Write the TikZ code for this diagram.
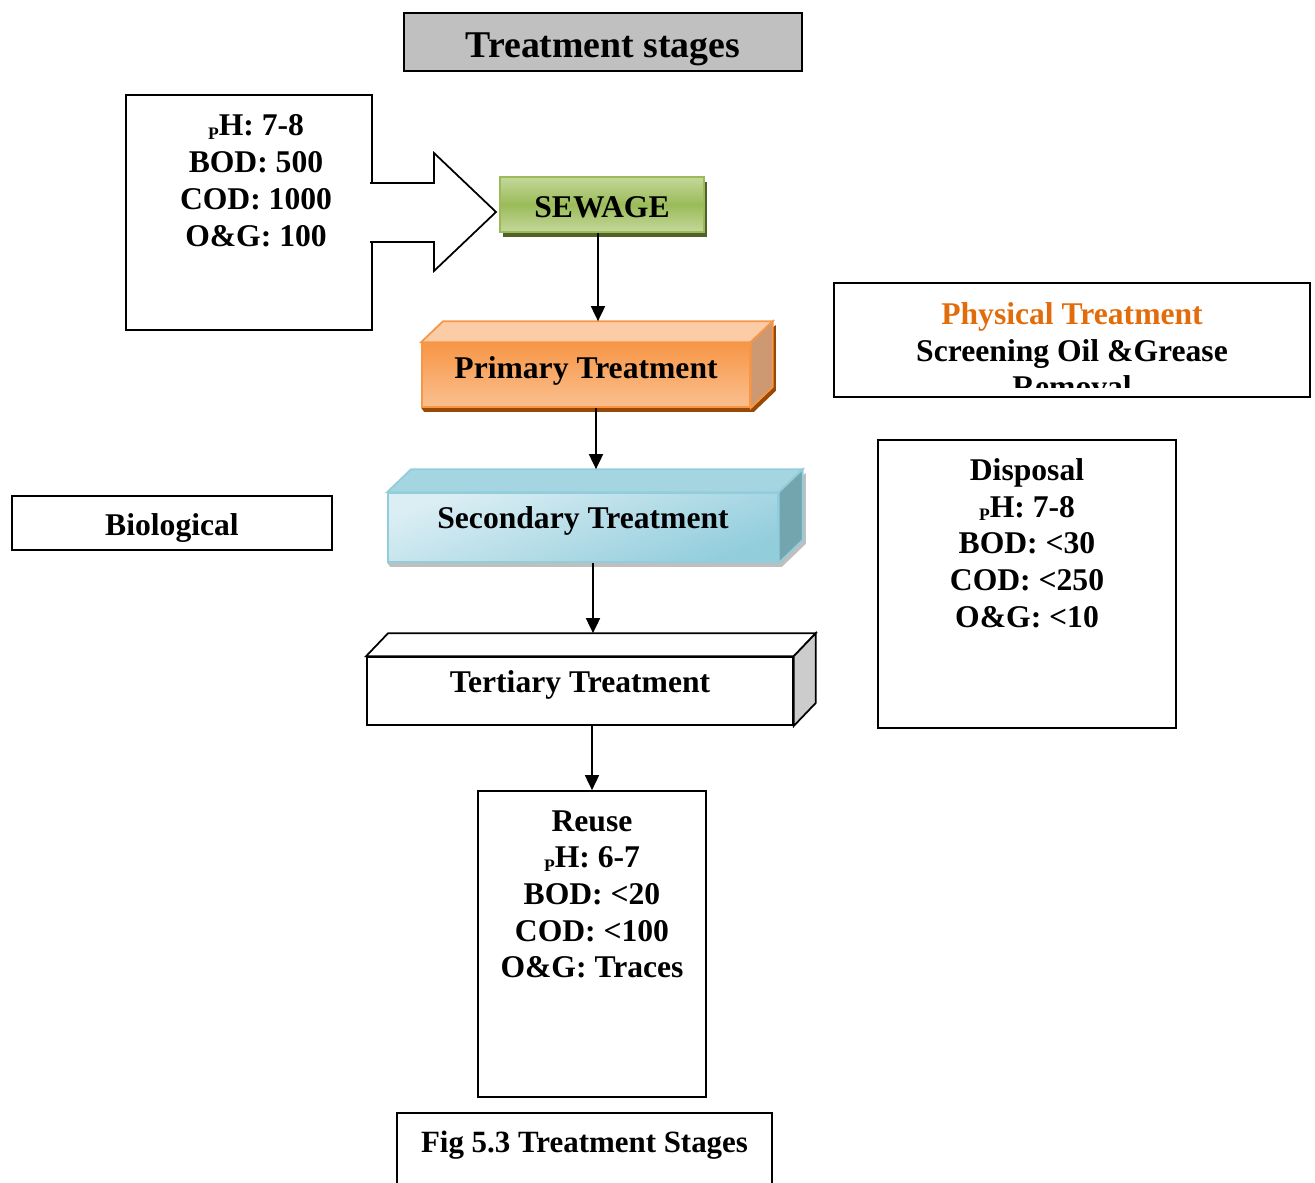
\documentclass[tikz,border=0pt]{standalone}
\usepackage{fontspec}
\setmainfont{Liberation Serif}
\usetikzlibrary{arrows.meta,shadows,backgrounds}
\definecolor{sewlight}{RGB}{196,215,155}
\definecolor{sewmid}{RGB}{155,187,89}
\definecolor{sewdark}{RGB}{79,98,40}
\definecolor{primlight}{RGB}{250,192,143}
\definecolor{primmid}{RGB}{247,150,70}
\definecolor{primtopc}{RGB}{251,204,165}
\definecolor{primside}{RGB}{204,153,114}
\definecolor{primdark}{RGB}{152,72,7}
\definecolor{seclight}{RGB}{219,238,244}
\definecolor{secmid}{RGB}{146,205,220}
\definecolor{sectopc}{RGB}{165,213,224}
\definecolor{secside}{RGB}{115,165,175}
\definecolor{terside}{RGB}{204,204,204}
\definecolor{titlegray}{RGB}{192,192,192}
\definecolor{physorange}{RGB}{227,108,10}
\newcommand\pH{{\fontsize{10}{10}\selectfont\raisebox{-2pt}{P}}H}

\begin{document}
\begin{tikzpicture}[x=0.02cm,y=-0.02cm,line width=1pt,
  bigfont/.style={font=\fontsize{18}{20.9}\selectfont\bfseries},
  plainbox/.style={draw,inner sep=0pt},
  txt/.style={bigfont,align=center,inner sep=0pt,anchor=north},
  stage/.style={bigfont,inner sep=0pt},
  flow/.style={-{Triangle[length=0.3cm,width=0.28cm]}}]
\useasboundingbox (0,0) rectangle (1315,1183);

\node[plainbox,fill=titlegray,minimum width=7.96cm,text height=0.9cm,text depth=0.26cm,font=\fontsize{21.5}{24}\selectfont\bfseries] (title) at (603,42) {Treatment stages};

\node[plainbox,minimum width=4.92cm,minimum height=4.70cm] (inbox) at (249,212.5) {};
\node[txt] (intxt) at (256,114) {\pH: 7-8\\BOD: 500\\COD: 1000\\O\&G: 100};
\filldraw[fill=white] (370,183) -- (434,183) -- (434,153) -- (496,212) -- (434,271) -- (434,242) -- (370,242);

\node[stage,draw=sewmid,top color=sewlight,bottom color=sewlight,middle color=sewmid,minimum width=4.08cm,text height=0.82cm,text depth=0.28cm,drop shadow={shadow xshift=0.06cm,shadow yshift=-0.1cm,fill=sewdark,opacity=1}] (sewage) at (602,204.5) {SEWAGE};

\node[stage,draw=primmid,top color=primmid,bottom color=primlight,minimum width=6.56cm,text height=0.70cm,text depth=0.58cm] (primary) at (586,375) {Primary Treatment};
\filldraw[draw=primmid,fill=primtopc] (primary.north west) -- ++(22,-21) -- ([shift={(22,-21)}]primary.north east) -- (primary.north east) -- cycle;
\filldraw[draw=primmid,fill=primside] (primary.north east) -- ++(22,-21) -- ([shift={(22,-21)}]primary.south east) -- (primary.south east) -- cycle;

\node[stage,draw=secmid,top color=seclight,bottom color=secmid,shading angle=20,minimum width=7.80cm,text height=0.70cm,text depth=0.68cm] (secondary) at (583,527.5) {Secondary Treatment};
\filldraw[draw=secmid,fill=sectopc] (secondary.north west) -- ++(24,-23) -- ([shift={(24,-23)}]secondary.north east) -- (secondary.north east) -- cycle;
\filldraw[draw=secmid,fill=secside] (secondary.north east) -- ++(24,-23) -- ([shift={(24,-23)}]secondary.south east) -- (secondary.south east) -- cycle;

\node[stage,draw,fill=white,minimum width=8.52cm,text height=0.70cm,text depth=0.66cm] (tertiary) at (580,691) {Tertiary Treatment};
\filldraw[fill=white] (tertiary.north west) -- ++(22,-23) -- ([shift={(22,-23)}]tertiary.north east) -- (tertiary.north east) -- cycle;
\filldraw[fill=terside] (tertiary.north east) -- ++(22,-23) -- ([shift={(22,-23)}]tertiary.south east) -- (tertiary.south east) -- cycle;

\begin{scope}[on background layer]
\fill[primdark] ([shift={(3,4)}]primary.south west) -- ([shift={(3,4)}]primary.south east) -- ([shift={(25,-17)}]primary.south east) -- ([shift={(25,-17)}]primary.north east) -- (primary.north east) -- (primary.south west) -- cycle;
\fill[gray!50] ([shift={(3,4)}]secondary.south west) -- ([shift={(3,4)}]secondary.south east) -- ([shift={(27,-19)}]secondary.south east) -- ([shift={(27,-19)}]secondary.north east) -- (secondary.north east) -- (secondary.south west) -- cycle;
\end{scope}

\node[plainbox,minimum width=4.56cm,minimum height=6.12cm] (reuse) at (592,944) {};
\node[txt] (reusetxt) at (592,809.5) {Reuse\\\pH: 6-7\\BOD: <20\\COD: <100\\O\&G: Traces};

\coordinate (primtop) at ([shift={(12,-21)}]primary.north);
\coordinate (sectop) at ([shift={(13,-23)}]secondary.north);
\coordinate (tertop) at ([shift={(13,-23)}]tertiary.north);
\draw[flow] (sewage.south -| primtop) -- (primtop);
\draw[flow] (primary.south -| sectop) -- (sectop);
\draw[flow] (secondary.south -| tertop) -- (tertop);
\draw[flow] (tertiary.south -| reuse.north) -- (reuse.north);

\node[plainbox,minimum width=9.52cm,minimum height=2.28cm] (physical) at (1072,340) {};
\begin{scope}
\clip (physical.north west) rectangle ([yshift=0.2cm]physical.south east);
\node[txt] (phystxt) at (1072,301.5) {\textcolor{physorange}{Physical Treatment}\\Screening Oil \&Grease\\Removal};
\end{scope}

\node[plainbox,minimum width=5.96cm,minimum height=5.76cm] (disposal) at (1027,584) {};
\node[txt] (disptxt) at (1027,457.5) {Disposal\\\pH: 7-8\\BOD: <30\\COD: <250\\O\&G: <10};

\node[plainbox,stage,minimum width=6.4cm,text height=0.78cm,text depth=0.30cm] (biological) at (172,523) {Biological};

\node[plainbox,minimum width=7.5cm,text height=0.78cm,text depth=0.96cm,font=\fontsize{17.6}{20}\selectfont\bfseries] (caption) at (584.5,1156.5) {Fig 5.3 Treatment Stages};
\end{tikzpicture}
\end{document}
